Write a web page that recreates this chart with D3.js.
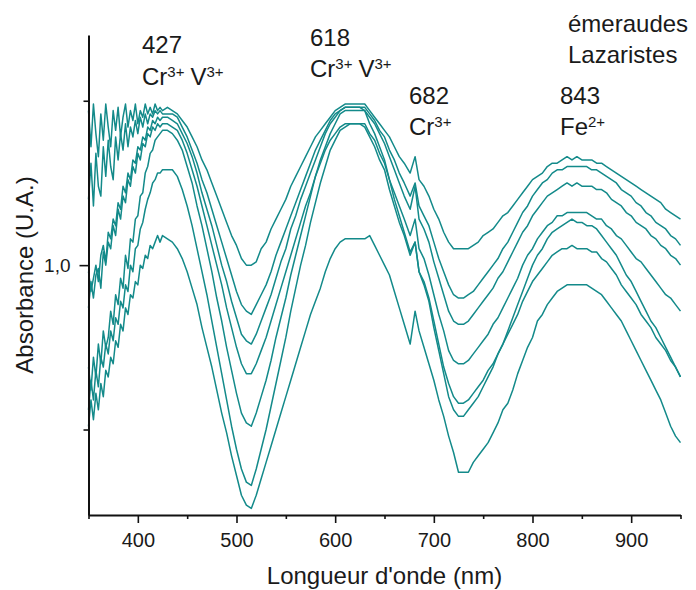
<!DOCTYPE html>
<html><head><meta charset="utf-8">
<script src="https://cdn.jsdelivr.net/npm/d3@7"></script>
<style>
html,body{margin:0;padding:0;background:#fff;}
svg{display:block;font-family:"Liberation Sans",Arial,Helvetica,sans-serif;}
</style></head><body>
<svg id="chart" width="696" height="590"></svg>
<script>
// sampling grid (nm): denser in the noisy UV part
const wavelengths = [...d3.range(350, 425.1, 2.5), ...d3.range(430, 671, 5), 676, 681, 685, ...d3.range(690, 951, 5)];

// absorbance spectra
const emerald1 = [1.47,1.36,1.49,1.40,1.33,1.46,1.38,1.49,1.42,1.36,1.47,1.41,1.48,1.39,1.45,1.49,1.42,1.47,1.44,1.49,1.43,1.47,1.45,1.49,1.46,1.48,1.46,1.49,1.47,1.48,1.47,
 1.48,1.47,1.46,1.44,1.42,1.39,1.36,1.32,1.29,1.25,1.21,1.17,1.13,1.09,1.06,1.02,1.00,
 1.00,1.01,1.05,1.07,1.11,1.14,1.17,1.20,1.24,1.27,1.30,1.33,1.36,1.39,1.41,1.43,1.45,1.47,1.48,1.49,1.49,
 1.49,1.49,1.49,1.47,1.45,1.43,1.41,1.39,1.36,1.33,1.31,
 1.28,1.33,1.26,
 1.24,1.21,1.17,1.14,1.10,1.07,1.05,
 1.05,1.05,1.05,1.06,1.07,1.09,1.10,1.11,1.13,1.15,1.16,1.18,1.20,1.22,1.24,1.26,1.27,1.28,1.30,1.31,1.31,1.32,1.33,1.32,1.33,
 1.32,1.32,1.32,1.31,1.31,1.30,1.29,1.28,1.27,1.26,1.25,1.24,1.23,1.22,1.21,1.20,1.19,1.17,1.16,1.15,1.14];
const emerald2 = [1.20,1.31,1.18,1.34,1.24,1.21,1.36,1.27,1.38,1.30,1.26,1.39,1.32,1.40,1.35,1.43,1.36,1.42,1.39,1.44,1.40,1.45,1.42,1.46,1.43,1.46,1.45,1.47,1.46,1.47,1.46,
 1.46,1.46,1.45,1.42,1.39,1.35,1.31,1.26,1.22,1.17,1.12,1.07,1.02,0.97,0.92,0.88,0.86,
 0.85,0.88,0.91,0.94,0.98,1.03,1.07,1.11,1.15,1.19,1.23,1.27,1.31,1.35,1.38,1.41,1.44,1.46,1.47,1.48,1.48,
 1.48,1.48,1.48,1.46,1.44,1.41,1.39,1.35,1.32,1.28,1.25,
 1.21,1.25,1.18,
 1.15,1.12,1.07,1.02,0.98,0.94,0.91,
 0.90,0.90,0.91,0.92,0.94,0.96,0.98,1.00,1.02,1.05,1.07,1.10,1.13,1.16,1.18,1.21,1.23,1.25,1.26,1.28,1.29,1.29,1.30,1.30,1.30,
 1.30,1.30,1.29,1.29,1.28,1.27,1.26,1.25,1.23,1.22,1.21,1.19,1.18,1.16,1.15,1.13,1.12,1.11,1.09,1.08,1.06];
const emerald3 = [0.98,0.92,0.96,1.00,0.95,1.03,1.06,1.01,1.10,1.08,1.14,1.12,1.19,1.17,1.24,1.22,1.28,1.26,1.32,1.31,1.36,1.35,1.39,1.38,1.42,1.41,1.44,1.43,1.45,1.44,1.45,
 1.45,1.44,1.43,1.40,1.37,1.33,1.28,1.22,1.17,1.12,1.06,1.00,0.95,0.89,0.84,0.79,0.77,
 0.76,0.79,0.83,0.87,0.91,0.96,1.01,1.05,1.11,1.15,1.20,1.24,1.28,1.32,1.36,1.40,1.43,1.45,1.47,1.48,1.48,
 1.48,1.48,1.47,1.45,1.43,1.40,1.37,1.33,1.29,1.25,1.21,
 1.17,1.24,1.14,
 1.11,1.07,1.01,0.96,0.91,0.86,0.83,
 0.82,0.82,0.83,0.85,0.87,0.89,0.91,0.93,0.96,0.98,1.01,1.04,1.07,1.10,1.12,1.15,1.17,1.19,1.21,1.22,1.23,1.24,1.25,1.24,1.25,
 1.24,1.24,1.24,1.23,1.23,1.22,1.20,1.19,1.18,1.16,1.15,1.13,1.12,1.11,1.09,1.08,1.06,1.05,1.03,1.02,1.00];
const emerald4 = [0.87,0.95,0.90,0.97,0.99,0.93,1.04,1.00,1.07,1.05,1.12,1.09,1.17,1.14,1.21,1.19,1.26,1.24,1.30,1.28,1.34,1.32,1.37,1.36,1.40,1.39,1.42,1.41,1.43,1.42,1.43,
 1.43,1.42,1.41,1.38,1.34,1.29,1.24,1.18,1.12,1.06,1.00,0.94,0.87,0.81,0.75,0.70,0.67,
 0.67,0.70,0.74,0.78,0.83,0.88,0.93,0.98,1.03,1.08,1.13,1.18,1.22,1.27,1.31,1.35,1.38,1.40,1.42,1.43,1.43,
 1.43,1.43,1.43,1.40,1.38,1.34,1.31,1.26,1.22,1.18,1.14,
 1.09,1.14,1.05,
 1.02,0.97,0.91,0.85,0.80,0.74,0.71,
 0.70,0.70,0.71,0.73,0.75,0.77,0.79,0.82,0.84,0.87,0.90,0.93,0.96,1.00,1.03,1.05,1.08,1.10,1.12,1.13,1.15,1.15,1.16,1.16,1.16,
 1.16,1.16,1.15,1.14,1.14,1.12,1.11,1.09,1.08,1.06,1.04,1.02,1.01,0.99,0.97,0.95,0.93,0.91,0.90,0.88,0.86];
const emerald5 = [0.69,0.62,0.72,0.66,0.76,0.70,0.80,0.75,0.78,0.86,0.82,0.91,0.88,0.96,0.93,1.03,0.99,1.08,1.07,1.14,1.15,1.21,1.22,1.28,1.30,1.34,1.35,1.38,1.39,1.40,1.41,
 1.41,1.40,1.38,1.35,1.30,1.25,1.18,1.12,1.05,0.98,0.90,0.83,0.75,0.68,0.61,0.55,0.52,
 0.51,0.55,0.60,0.65,0.71,0.78,0.84,0.90,0.97,1.03,1.09,1.15,1.21,1.27,1.32,1.36,1.40,1.43,1.46,1.47,1.47,
 1.47,1.47,1.47,1.43,1.40,1.36,1.32,1.26,1.20,1.15,1.10,
 1.04,1.07,0.98,
 0.94,0.89,0.81,0.74,0.67,0.60,0.56,
 0.54,0.54,0.56,0.58,0.60,0.63,0.66,0.69,0.73,0.76,0.80,0.84,0.88,0.92,0.96,1.00,1.03,1.05,1.08,1.10,1.11,1.12,1.13,1.14,1.13,
 1.13,1.12,1.12,1.11,1.09,1.07,1.05,1.03,1.00,0.97,0.95,0.92,0.89,0.86,0.83,0.81,0.78,0.75,0.72,0.69,0.66];
const emerald6 = [0.56,0.65,0.59,0.68,0.63,0.72,0.69,0.76,0.73,0.80,0.77,0.84,0.82,0.89,0.87,0.94,0.92,1.00,0.98,1.05,1.06,1.11,1.13,1.17,1.20,1.22,1.25,1.26,1.28,1.28,1.29,
 1.29,1.29,1.27,1.23,1.18,1.12,1.05,0.98,0.91,0.83,0.75,0.67,0.59,0.51,0.44,0.38,0.34,
 0.33,0.38,0.44,0.50,0.57,0.64,0.71,0.78,0.86,0.93,1.00,1.06,1.13,1.19,1.25,1.30,1.35,1.38,1.41,1.42,1.43,
 1.43,1.43,1.42,1.39,1.36,1.32,1.29,1.23,1.18,1.13,1.09,
 1.03,1.07,0.98,
 0.95,0.90,0.83,0.76,0.69,0.64,0.60,
 0.58,0.58,0.59,0.61,0.63,0.65,0.68,0.70,0.73,0.76,0.79,0.82,0.85,0.89,0.92,0.95,0.97,0.99,1.01,1.03,1.04,1.05,1.05,1.06,1.05,
 1.05,1.05,1.04,1.04,1.02,1.01,0.99,0.97,0.94,0.92,0.90,0.88,0.85,0.83,0.81,0.78,0.76,0.74,0.71,0.69,0.66];
const emerald7 = [0.51,0.59,0.53,0.61,0.56,0.64,0.60,0.68,0.66,0.72,0.70,0.77,0.75,0.82,0.80,0.87,0.85,0.91,0.90,0.95,0.94,1.00,0.99,1.03,1.02,1.06,1.05,1.07,1.09,1.07,1.09,
 1.08,1.07,1.05,1.02,0.98,0.93,0.88,0.81,0.75,0.69,0.62,0.55,0.49,0.42,0.36,0.30,0.27,
 0.26,0.30,0.35,0.40,0.45,0.50,0.55,0.60,0.65,0.70,0.75,0.80,0.85,0.89,0.93,0.98,1.02,1.05,1.07,1.08,1.08,
 1.08,1.08,1.08,1.09,1.06,1.03,1.00,0.97,0.92,0.87,0.82,
 0.76,0.86,0.80,
 0.75,0.70,0.65,0.59,0.54,0.48,0.43,
 0.37,0.37,0.37,0.40,0.42,0.44,0.46,0.49,0.52,0.56,0.58,0.62,0.67,0.71,0.75,0.78,0.83,0.85,0.88,0.90,0.92,0.93,0.94,0.94,0.94,
 0.94,0.94,0.93,0.92,0.91,0.89,0.87,0.85,0.83,0.80,0.77,0.74,0.71,0.68,0.65,0.62,0.59,0.55,0.51,0.48,0.46];

const series = [emerald1, emerald2, emerald3, emerald4, emerald5, emerald6, emerald7];

// axes ticks and labels
const xMajorTicks = [400, 500, 600, 700, 800, 900];
const xMinorTicks = [350, 450, 550, 650, 750, 850, 950];
const yMajorTicks = [1.0];
const yMajorLabels = ["1,0"];
const yMinorTicks = [0.5, 1.5];
const xTitle = "Longueur d'onde (nm)";
const yTitle = "Absorbance (U.A.)";

// band annotations
const bandNumbers = ["427", "618", "682", "843"];
const bandIons = [[["Cr","3+"],["V","3+"]], [["Cr","3+"],["V","3+"]], [["Cr","3+"]], [["Fe","2+"]]];
const legendLines = ["émeraudes", "Lazaristes"];

const svg = d3.select("#chart");
const color = "#138a8a";
const ink = "#1a1a1a";

const x = d3.scaleLinear().domain([350, 950]).range([88.5, 680.5]);
const y = d3.scaleLinear().domain([0.24, 1.70]).range([515, 35]);

// spectra
const line = d3.line()
  .x((d, i) => x(wavelengths[i]))
  .y(d => y(d));
svg.append("g").selectAll("path").data(series).join("path")
  .attr("d", d => line(d))
  .attr("fill", "none")
  .attr("stroke", color)
  .attr("stroke-width", 1.5)
  .attr("stroke-linejoin", "round");

// x axis
const gx = svg.append("g").attr("transform", "translate(0,515)")
  .call(d3.axisBottom(x).tickValues(xMajorTicks).tickSize(8).tickSizeOuter(0).tickPadding(10).tickFormat(d3.format("d")));
const gxm = svg.append("g").attr("transform", "translate(0,515)")
  .call(d3.axisBottom(x).tickValues(xMinorTicks).tickSize(4).tickSizeOuter(0).tickFormat(""));
gxm.select(".domain").remove();

// y axis
const gy = svg.append("g").attr("transform", "translate(88.5,0)")
  .call(d3.axisLeft(y).tickValues(yMajorTicks).tickSize(9).tickSizeOuter(0).tickPadding(9)
    .tickFormat((d, i) => yMajorLabels[i]));
const gym = svg.append("g").attr("transform", "translate(88.5,0)")
  .call(d3.axisLeft(y).tickValues(yMinorTicks).tickSize(5).tickSizeOuter(0).tickFormat(""));
gym.select(".domain").remove();

svg.selectAll(".domain").attr("stroke", "#111").attr("stroke-width", 2);
svg.selectAll(".tick line").attr("stroke", "#111").attr("stroke-width", 1.6);
gx.selectAll(".tick text").attr("font-size", 20).attr("fill", ink).attr("font-family", "Liberation Sans, Arial, sans-serif");
gy.selectAll(".tick text").attr("font-size", 19).attr("fill", ink).attr("font-family", "Liberation Sans, Arial, sans-serif");

// axis titles
svg.append("text").attr("x", 384.5).attr("y", 584).attr("text-anchor", "middle")
  .attr("font-size", 24).attr("fill", ink).text(xTitle);
svg.append("text").attr("transform", "translate(33,275) rotate(-90)").attr("text-anchor", "middle")
  .attr("font-size", 24).attr("fill", ink).text(yTitle);

// annotations
const annPos = [[142, 53, 85], [310, 46, 77], [409, 104, 135], [560, 104, 135]];
bandNumbers.forEach((num, i) => {
  const [ax, b1, b2] = annPos[i];
  svg.append("text").attr("x", ax).attr("y", b1).attr("font-size", 24).attr("fill", ink).text(num);
  const t = svg.append("text").attr("x", ax).attr("y", b2).attr("font-size", 24).attr("fill", ink);
  bandIons[i].forEach((ion, j) => {
    t.append("tspan").attr("font-size", 24).attr("dy", j === 0 ? 0 : 8).attr("dx", j === 0 ? 0 : 6).text(ion[0]);
    t.append("tspan").attr("font-size", 15).attr("dy", -8).text(ion[1]);
  });
});
svg.append("text").attr("x", 568).attr("y", 32).attr("font-size", 24).attr("fill", ink).text(legendLines[0]);
svg.append("text").attr("x", 568).attr("y", 63).attr("font-size", 24).attr("fill", ink).text(legendLines[1]);
</script>
</body></html>
